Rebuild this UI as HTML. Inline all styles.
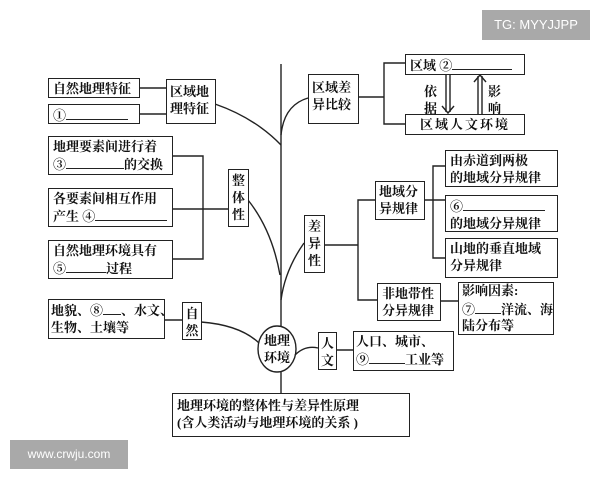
<!DOCTYPE html>
<html><head><meta charset="utf-8"><style>
body{margin:0;background:#fff;}
.w{position:relative;width:600px;height:480px;overflow:hidden;font-family:"Liberation Serif","Noto Serif CJK SC",serif;font-weight:bold;color:#111;}
.b{position:absolute;border:1.6px solid #222;box-sizing:border-box;font-size:13px;line-height:17px;padding:1px 4px;white-space:nowrap;background:#fff;}
.v{text-align:center;padding:2px 0;line-height:17px;}
svg{position:absolute;left:0;top:0;}
.u{display:inline-block;border-bottom:1.3px solid #222;height:13px;vertical-align:baseline;}
.wm{position:absolute;background:#a9a9a9;color:#fff;font-family:"Liberation Sans",sans-serif;font-weight:normal;}
</style></head><body><div class="w">
<svg width="600" height="480" fill="none" stroke="#222" stroke-width="1.4">
<line x1="281" y1="64" x2="281" y2="327"/>
<line x1="281" y1="372" x2="281" y2="393"/>
<ellipse cx="277" cy="349" rx="19" ry="23"/>
<path d="M215 104 Q255 118 281 145"/>
<path d="M281 135 Q284 105 308 98"/>
<path d="M248 200 Q272 230 280 275"/>
<path d="M304 243 Q285 270 281 300"/>
<path d="M201 322 Q240 325 259 343"/>
<path d="M295 355 Q305 345 318 348"/>
<line x1="140" y1="88" x2="166" y2="88"/>
<line x1="140" y1="114" x2="166" y2="114"/>
<polyline points="172,156 203,156 203,259 172,259"/>
<line x1="172" y1="209" x2="228" y2="209"/>
<line x1="165" y1="320" x2="182" y2="320"/>
<line x1="336" y1="350" x2="353" y2="350"/>
<line x1="358" y1="97" x2="384" y2="97"/>
<polyline points="405,63 384,63 384,124 405,124"/>
<line x1="325" y1="245" x2="358" y2="245"/>
<polyline points="375,200 358,200 358,300 377,300"/>
<line x1="424" y1="200" x2="445" y2="200"/>
<polyline points="445,166 433,166 433,258 445,258"/>
<line x1="440" y1="301" x2="458" y2="301"/>
<line x1="446" y1="74" x2="446" y2="112"/><line x1="450" y1="74" x2="450" y2="112"/>
<polyline points="442,106 448,113 454,106"/>
<line x1="478" y1="76" x2="478" y2="114"/><line x1="482" y1="76" x2="482" y2="114"/>
<polyline points="474,82 480,75 486,82"/>
</svg>
<div class="wm" style="left:482px;top:10px;width:108px;height:30px;font-size:13px;line-height:30px;text-align:center;">TG: MYYJJPP</div>
<div class="wm" style="left:10px;top:440px;width:118px;height:29px;font-size:12px;line-height:29px;text-align:center;">www.crwju.com</div>

<div class="b" style="left:48px;top:78px;width:92px;height:20px;">自然地理特征</div>
<div class="b" style="left:48px;top:104px;width:92px;height:20px;">①<span class="u" style="width:62px"></span></div>
<div class="b" style="left:166px;top:79px;width:50px;height:45px;padding:3px 3px;">区域地<br>理特征</div>
<div class="b" style="left:48px;top:136px;width:125px;height:39px;">地理要素间进行着<br>③<span class="u" style="width:58px"></span>的交换</div>
<div class="b" style="left:48px;top:188px;width:125px;height:39px;">各要素间相互作用<br>产生 ④<span class="u" style="width:72px"></span></div>
<div class="b" style="left:48px;top:240px;width:125px;height:39px;">自然地理环境具有<br>⑤<span class="u" style="width:40px"></span>过程</div>
<div class="b v" style="left:228px;top:169px;width:21px;height:58px;">整<br>体<br>性</div>
<div class="b" style="left:48px;top:299px;width:117px;height:40px;padding:1px 2px;">地貌、⑧<span class="u" style="width:18px"></span>、水文、<br>生物、土壤等</div>
<div class="b v" style="left:182px;top:302px;width:20px;height:38px;">自<br>然</div>
<div class="b" style="left:256px;top:335px;width:1px;height:1px;border:none;background:none;padding:0"></div>
<div style="position:absolute;left:258px;top:332px;width:38px;font-size:13px;line-height:17px;text-align:center;">地理<br>环境</div>
<div class="b v" style="left:318px;top:332px;width:19px;height:38px;">人<br>文</div>
<div class="b" style="left:353px;top:331px;width:101px;height:40px;padding:1px 2px;">人口、城市、<br>⑨<span class="u" style="width:36px"></span>工业等</div>
<div class="b" style="left:172px;top:393px;width:238px;height:44px;padding:3px 4px;">地理环境的整体性与差异性原理<br>(含人类活动与地理环境的关系 )</div>
<div class="b" style="left:308px;top:74px;width:51px;height:50px;padding:4px 3px;">区域差<br>异比较</div>
<div class="b" style="left:405px;top:54px;width:120px;height:21px;">区域 ②<span class="u" style="width:60px"></span></div>
<div style="position:absolute;left:424px;top:83px;font-size:13px;line-height:17px;">依<br>据</div>
<div style="position:absolute;left:488px;top:83px;font-size:13px;line-height:17px;">影<br>响</div>
<div class="b" style="left:405px;top:114px;width:120px;height:21px;text-align:center;letter-spacing:2px;">区域人文环境</div>
<div class="b v" style="left:304px;top:215px;width:21px;height:58px;">差<br>异<br>性</div>
<div class="b" style="left:375px;top:181px;width:50px;height:39px;padding:1px 3px;">地域分<br>异规律</div>
<div class="b" style="left:445px;top:150px;width:113px;height:37px;">由赤道到两极<br>的地域分异规律</div>
<div class="b" style="left:445px;top:195px;width:113px;height:37px;">⑥<span class="u" style="width:82px"></span><br>的地域分异规律</div>
<div class="b" style="left:445px;top:238px;width:113px;height:40px;">山地的垂直地域<br>分异规律</div>
<div class="b" style="left:377px;top:283px;width:64px;height:38px;padding:1px 4px;">非地带性<br>分异规律</div>
<div class="b" style="left:458px;top:282px;width:96px;height:53px;padding:0 3px;line-height:16.5px;">影响因素:<br>⑦<span class="u" style="width:26px"></span>洋流、海<br>陆分布等</div>
</div></body></html>
